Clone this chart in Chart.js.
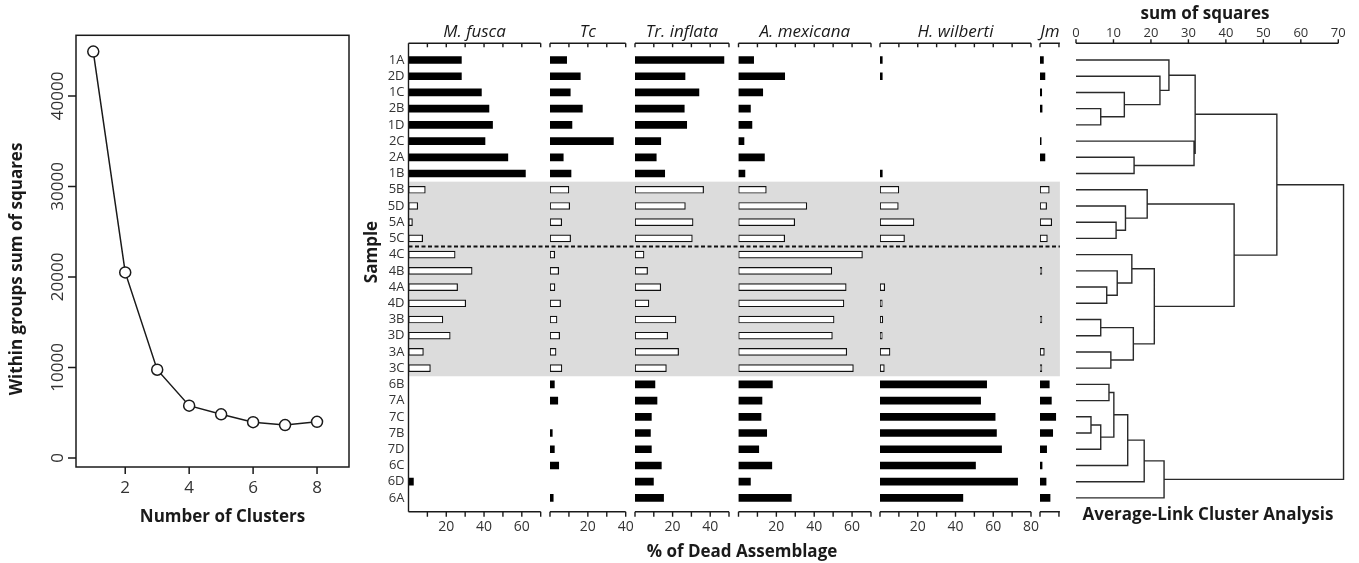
<!DOCTYPE html>
<html>
<head>
<meta charset="utf-8">
<script src="https://cdn.jsdelivr.net/npm/chart.js@4.4.1/dist/chart.umd.min.js"></script>
<style>
    html, body { margin: 0; padding: 0; background: #fff; }
    #lienzo { position: relative; width: 1359px; height: 563px; overflow: hidden; }
    #lienzo canvas { position: absolute; left: 0; top: 0; }
</style>
</head>
<body>
<div id="lienzo"></div>
<script>
// ---------- Datos ----------
const clusters = [1, 2, 3, 4, 5, 6, 7, 8];
const withinSS = [44900, 20500, 9750, 5780, 4820, 3950, 3630, 3990];
const wssTicks = [0, 10000, 20000, 30000, 40000];
const clusterTicks = [2, 4, 6, 8];

const samples = ['1A','2D','1C','2B','1D','2C','2A','1B','5B','5D','5A','5C',
                 '4C','4B','4A','4D','3B','3D','3A','3C','6B','7A','7C','7B','7D','6C','6D','6A'];
const openGroups = ['3', '4', '5'];   // muestras con barra vacia (banda gris)

const species = ['M. fusca', 'Tc', 'Tr. inflata', 'A. mexicana', 'H. wilberti', 'Jm'];
const mFusca    = [28, 28, 38.6, 42.6, 44.5, 40.5, 52.6, 61.9, 8.9, 4.9, 2.1, 7.5, 24.7, 33.7, 26, 30.3, 18.2, 22.1, 7.9, 11.6, 0, 0, 0, 0, 0, 0, 2.6, 0];
const tc        = [8.8, 16, 10.7, 17.1, 11.6, 33.5, 7, 11.1, 10, 10.4, 6.2, 10.9, 2.5, 4.6, 2.6, 5.6, 3.7, 5.1, 3.2, 6.3, 2.3, 4.1, 0, 1.2, 2.3, 4.6, 0, 1.7];
const trInflata = [47.3, 26.6, 34, 26.2, 27.5, 13.7, 11.3, 15.8, 36.5, 26.8, 30.9, 30.5, 4.8, 6.7, 13.7, 7.4, 21.8, 17.4, 23.2, 16.7, 10.6, 11.7, 8.7, 8.2, 8.7, 14, 9.8, 15.2];
const aMexicana = [8, 24.4, 12.8, 6.3, 7.1, 2.9, 13.7, 3.4, 14.7, 36.1, 29.7, 24.4, 65.5, 49.3, 56.9, 55.7, 50.5, 49.6, 57.2, 60.7, 17.9, 12.4, 11.9, 14.9, 10.7, 17.6, 6.3, 27.9];
const hWilberti = [1.2, 1.2, 0, 0, 0, 0, 0, 1.2, 10, 9.7, 18, 13, 0, 0, 2.5, 1.2, 1.5, 1.2, 5.3, 2.3, 56.5, 53.3, 61, 61.7, 64.4, 50.6, 72.9, 43.9];
const jm        = [1.8, 2.6, 0.9, 1.1, 0, 0.6, 2.6, 0, 4.9, 3.5, 6.2, 3.9, 0, 1.0, 0, 0, 1.0, 0, 2.3, 1.0, 4.9, 6, 8.3, 6.7, 3.5, 1.1, 3.2, 5.3];
const speciesValues = [mFusca, tc, trInflata, aMexicana, hWilberti, jm];
const speciesMax = [70, 40, 50, 70, 80, 10.5];
const speciesTickLabels = [[20, 40, 60], [20, 40], [20, 40], [20, 40, 60], [20, 40, 60, 80], []];

// Dendrograma: [rama a, rama b, altura]; una rama es una muestra o el indice de una union anterior
const merges = [
    ['2B', '1D', 6.6], ['1C', 0, 12.9], ['2D', 1, 22.4], ['1A', 2, 24.8],
    ['2A', '1B', 15.5], ['2C', 4, 31.5], [3, 5, 31.8],
    ['5A', '5C', 10.7], ['5D', 7, 13.2], ['5B', 8, 19.0],
    ['4A', '4D', 8.2], ['4B', 10, 11.0], ['4C', 11, 14.9],
    ['3B', '3D', 6.6], ['3A', '3C', 9.3], [13, 14, 15.3],
    [12, 15, 20.9], [9, 16, 42.2], [6, 17, 53.6],
    ['6B', '7A', 8.8], ['7C', '7B', 4.0], [20, '7D', 6.6], [19, 21, 10.1],
    [22, '6C', 13.8], [23, '6D', 18.2], [24, '6A', 23.5],
    [18, 25, 71.4]
];
const ssTicks = [0, 10, 20, 30, 40, 50, 60, 70];

// ---------- Maquetacion ----------
const ANCHO = 1359, ALTO = 563;
const FUENTE = '"Open Sans", "DejaVu Sans", sans-serif';
const NEGRO = '#1a1a1a', GRIS_TEXTO = '#333';
const MARCO_CODO = { left: 76, right: 349, top: 35.3, bottom: 467 };
const FILAS = { top: 43.3, bottom: 511.7, min: -1.03, max: 27.85 };
const MARCO_PANELES = [[408.5, 540.7], [550, 625.7], [635, 729], [738.5, 871], [880, 1031], [1040, 1059.9]];
const MARCO_DENDRO = [1076, 1338.3];

document.addEventListener('DOMContentLoaded', function() {
    iniciarApp();
});

function iniciarApp() {
    Chart.defaults.font.family = FUENTE;
    Chart.defaults.animation = false;
    Chart.defaults.responsive = false;
    Chart.defaults.devicePixelRatio = 1;
    Chart.defaults.events = [];
    Chart.defaults.plugins.legend.display = false;
    Chart.defaults.plugins.tooltip.enabled = false;

    //Grafica del codo (suma de cuadrados)
    graficarCodo();

    //Barras por especie
    speciesValues.forEach((valores, i) => graficarPanel(i));

    //Dendrograma
    graficarDendrograma();
}

function crearLienzo() {
    const canvas = document.createElement('canvas');
    canvas.width = ANCHO;
    canvas.height = ALTO;
    document.querySelector('#lienzo').appendChild(canvas);
    return canvas.getContext('2d');
}

function margen(left, right, top, bottom) {
    return { left: left, right: ANCHO - right, top: top, bottom: ALTO - bottom };
}

function texto(ctx, str, x, y, font, color, rot, align) {
    ctx.save();
    ctx.font = font;
    ctx.fillStyle = color || NEGRO;
    ctx.textAlign = align || 'center';
    ctx.textBaseline = 'middle';
    ctx.translate(x, y);
    if (rot) ctx.rotate(rot);
    ctx.fillText(str, 0, 0);
    ctx.restore();
}

function graficarCodo() {
    const ctx = crearLienzo();
    new Chart(ctx, {
        type: 'line',
        data: {
            datasets: [{
                data: clusters.map((c, i) => ({ x: c, y: withinSS[i] })),
                borderColor: NEGRO,
                borderWidth: 1.5,
                tension: 0,
                pointRadius: 5.5,
                pointBorderWidth: 1.5,
                pointBackgroundColor: '#fff',
                pointBorderColor: NEGRO
            }]
        },
        options: {
            layout: { padding: margen(MARCO_CODO.left, MARCO_CODO.right, MARCO_CODO.top, MARCO_CODO.bottom) },
            scales: {
                x: { type: 'linear', min: 0.46, max: 9.0, display: false },
                y: { type: 'linear', min: -1000, max: 46700, display: false }
            }
        },
        plugins: [{
            id: 'ejesCodo',
            afterDraw(chart) {
                const c = chart.ctx;
                const a = chart.chartArea;
                const sx = chart.scales.x, sy = chart.scales.y;
                c.save();
                c.strokeStyle = NEGRO;
                c.lineWidth = 1.5;
                c.strokeRect(a.left, a.top, a.right - a.left, a.bottom - a.top);
                c.beginPath();
                clusterTicks.forEach(v => {
                    const x = sx.getPixelForValue(v);
                    c.moveTo(x, a.bottom);
                    c.lineTo(x, a.bottom + 7);
                });
                wssTicks.forEach(v => {
                    const y = sy.getPixelForValue(v);
                    c.moveTo(a.left, y);
                    c.lineTo(a.left - 8, y);
                });
                c.stroke();
                c.restore();
                clusterTicks.forEach(v => texto(c, String(v), sx.getPixelForValue(v), a.bottom + 21, '17px ' + FUENTE, GRIS_TEXTO));
                wssTicks.forEach(v => texto(c, String(v), a.left - 18, sy.getPixelForValue(v), '17px ' + FUENTE, GRIS_TEXTO, -Math.PI / 2));
                texto(c, 'Number of Clusters', (a.left + a.right) / 2 + 10, 517, 'bold 17px ' + FUENTE);
                texto(c, 'Within groups sum of squares', 17, 269, 'bold 17px ' + FUENTE, NEGRO, -Math.PI / 2);
            }
        }]
    });
}

function esVacia(fila) {
    return openGroups.includes(samples[fila][0]);
}

function graficarPanel(i) {
    const ctx = crearLienzo();
    const [izq, der] = MARCO_PANELES[i];
    const valores = speciesValues[i];
    const puntos = valores.map((v, fila) => ({ x: v, y: fila })).filter(p => p.x > 0);

    const marcas = [];
    for (let v = (i === 0 ? 10 : 0); v <= speciesMax[i]; v += 10) marcas.push(v);

    new Chart(ctx, {
        type: 'bar',
        data: {
            datasets: [{
                data: puntos,
                barThickness: 7,
                borderSkipped: false,
                backgroundColor: c => esVacia(c.raw.y) ? '#fff' : '#000',
                borderColor: '#111',
                borderWidth: c => esVacia(c.raw.y) ? 1.2 : 0
            }]
        },
        options: {
            indexAxis: 'y',
            layout: { padding: margen(izq, der, FILAS.top, FILAS.bottom) },
            scales: {
                x: { type: 'linear', min: 0, max: speciesMax[i], display: false },
                y: { type: 'linear', min: FILAS.min, max: FILAS.max, reverse: true, offset: false, display: false }
            }
        },
        plugins: [{
            id: 'ejesPanel',
            beforeDatasetsDraw(chart) {
                if (i !== 0) return;
                //Banda gris y linea punteada (solo en el primer panel, queda debajo del resto)
                const c = chart.ctx;
                const sy = chart.scales.y;
                const vacias = samples.map((s, f) => f).filter(f => esVacia(f));
                const y0 = sy.getPixelForValue(vacias[0] - 0.5);
                const y1 = sy.getPixelForValue(vacias[vacias.length - 1] + 0.5);
                const xFin = MARCO_PANELES[MARCO_PANELES.length - 1][1];
                c.save();
                c.fillStyle = '#dcdcdc';
                c.fillRect(izq, y0, xFin - izq, y1 - y0);
                const corte = samples.findIndex(s => s[0] === '4') - 0.5;
                const yc = sy.getPixelForValue(corte);
                c.strokeStyle = '#111';
                c.lineWidth = 2;
                c.setLineDash([4, 2.5]);
                c.beginPath();
                c.moveTo(izq, yc);
                c.lineTo(xFin, yc);
                c.stroke();
                c.restore();
            },
            afterDraw(chart) {
                const c = chart.ctx;
                const a = chart.chartArea;
                const sx = chart.scales.x, sy = chart.scales.y;
                c.save();
                c.strokeStyle = NEGRO;
                c.lineWidth = 1.4;
                c.beginPath();
                c.moveTo(a.left, a.top);
                c.lineTo(a.right, a.top);
                c.moveTo(a.left, a.bottom);
                c.lineTo(a.right, a.bottom);
                if (i === 0) {
                    c.moveTo(a.left, a.top);
                    c.lineTo(a.left, a.bottom);
                }
                marcas.forEach(v => {
                    const x = sx.getPixelForValue(v);
                    c.moveTo(x, a.top);
                    c.lineTo(x, a.top + 4);
                    c.moveTo(x, a.bottom);
                    c.lineTo(x, a.bottom + 5);
                });
                c.stroke();
                c.restore();

                speciesTickLabels[i].forEach(v => texto(c, String(v), sx.getPixelForValue(v), 527, '14px ' + FUENTE, GRIS_TEXTO));
                texto(c, species[i], (a.left + a.right) / 2, 32, 'italic 17px ' + FUENTE, NEGRO);

                if (i === 0) {
                    samples.forEach((s, f) => texto(c, s, a.left - 4, sy.getPixelForValue(f), '13px ' + FUENTE, GRIS_TEXTO, 0, 'right'));
                    texto(c, 'Sample', 372, 252, 'bold 17px ' + FUENTE, NEGRO, -Math.PI / 2);
                    texto(c, '% of Dead Assemblage', 742, 552, 'bold 17px ' + FUENTE, NEGRO);
                }
            }
        }]
    });
}

function construirRamas() {
    const nodos = [];
    const puntos = [];
    const nodo = ref => typeof ref === 'string' ? { x: 0, y: samples.indexOf(ref) } : nodos[ref];
    merges.forEach(([a, b, h]) => {
        const pa = nodo(a), pb = nodo(b);
        puntos.push({ x: pa.x, y: pa.y }, { x: h, y: pa.y }, { x: h, y: pb.y }, { x: pb.x, y: pb.y }, { x: null, y: null });
        nodos.push({ x: h, y: (pa.y + pb.y) / 2 });
    });
    return puntos;
}

function graficarDendrograma() {
    const ctx = crearLienzo();
    new Chart(ctx, {
        type: 'scatter',
        data: {
            datasets: [{
                data: construirRamas(),
                showLine: true,
                spanGaps: false,
                clip: false,
                borderColor: '#2a2a2a',
                borderWidth: 1.4,
                borderJoinStyle: 'miter',
                pointRadius: 0,
                tension: 0
            }]
        },
        options: {
            layout: { padding: margen(MARCO_DENDRO[0], MARCO_DENDRO[1], FILAS.top, FILAS.bottom) },
            scales: {
                x: { type: 'linear', min: 0, max: 70, display: false },
                y: { type: 'linear', min: FILAS.min, max: FILAS.max, reverse: true, display: false }
            }
        },
        plugins: [{
            id: 'ejeDendro',
            afterDraw(chart) {
                const c = chart.ctx;
                const a = chart.chartArea;
                const sx = chart.scales.x;
                c.save();
                c.strokeStyle = NEGRO;
                c.lineWidth = 1.4;
                c.beginPath();
                c.moveTo(a.left, a.top);
                c.lineTo(a.right, a.top);
                ssTicks.forEach(v => {
                    const x = sx.getPixelForValue(v);
                    c.moveTo(x, a.top);
                    c.lineTo(x, a.top - 4);
                });
                c.stroke();
                c.restore();
                ssTicks.forEach(v => texto(c, String(v), sx.getPixelForValue(v), 33, '13px ' + FUENTE, GRIS_TEXTO));
                texto(c, 'sum of squares', 1205, 14, 'bold 17px ' + FUENTE, NEGRO);
                texto(c, 'Average-Link Cluster Analysis', 1208, 515, 'bold 17px ' + FUENTE, NEGRO);
            }
        }]
    });
}
</script>
</body>
</html>
